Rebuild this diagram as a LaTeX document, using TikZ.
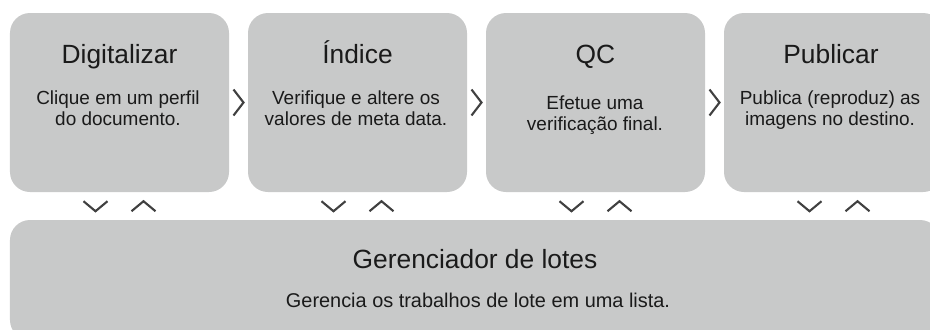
\documentclass[tikz,border=0pt]{standalone}
\usepackage{fontspec}
\setmainfont{Liberation Sans}
\usetikzlibrary{calc}
\definecolor{panel}{HTML}{C8C9C9}
\definecolor{ink}{HTML}{1A1A1A}
\definecolor{chev}{HTML}{404040}
\tikzset{
  stage/.style={fill=panel, rounded corners=6mm, minimum width=65.7mm, minimum height=53.7mm, inner sep=0pt},
  stagetitle/.style={ink, font=\fontsize{22.5}{27}\selectfont, anchor=base, inner sep=0pt},
  stagetext/.style={ink, font=\fontsize{16.2}{17.9}\selectfont, align=center, anchor=base, inner sep=0pt},
  chevron/.style={chev, line width=1.8pt},
}

\begin{document}
\begin{tikzpicture}[x=0.3mm, y=-0.3mm]
  \useasboundingbox (0,0) rectangle (930,329);
  \clip (0,0) rectangle (930,329);
  % stages
  \node[stage] (scan) at (119.5,102.5) {};
  \node[stage] (index) at (357.5,102.5) {};
  \node[stage] (qc) at (595.5,102.5) {};
  \node[stage] (publish) at (833.5,102.5) {};
  \node[stagetitle] (scantitle) at (119.5,63) {Digitalizar};
  \node[stagetitle] (indextitle) at (357.5,63) {Índice};
  \node[stagetitle] (qctitle) at (595.5,63) {QC};
  \node[stagetitle] (publishtitle) at (831,63) {Publicar};
  % base of a two-line text is its last line
  \node[stagetext] (scantext) at (118,125) {Clique em um perfil\\do documento.};
  \node[stagetext] (indextext) at (356,125) {Verifique e altere os\\valores de meta data.};
  \node[stagetext] (qctext) at (595,130) {Efetue uma\\verificação final.};
  \node[stagetext] (publishtext) at (830,125) {Publica (reproduz) as\\imagens no destino.};
  % batch manager
  \node[stage, minimum width=279mm, minimum height=36mm] (batch) at (475,280) {};
  \node[stagetitle] (batchtitle) at (475,268) {Gerenciador de lotes};
  \node[stagetext, font=\fontsize{17}{20}\selectfont] (batchtext) at (478,307) {Gerencia os trabalhos de lote em uma lista.};
  % chevrons
  \foreach \a/\b in {scan/index, index/qc, qc/publish}
    \draw[chevron] ($(\a.east)!0.5!(\b.west)+(-5,-13)$) -- ++(10,13) -- ++(-10,13);
  \foreach \s in {scan,index,qc,publish} {
    \draw[chevron] ($(\s.south)+(-36,9)$) -- ++(12,10) -- ++(12,-10);
    \draw[chevron] ($(\s.south)+(12,19)$) -- ++(12,-10) -- ++(12,10);
  }
\end{tikzpicture}
\end{document}
